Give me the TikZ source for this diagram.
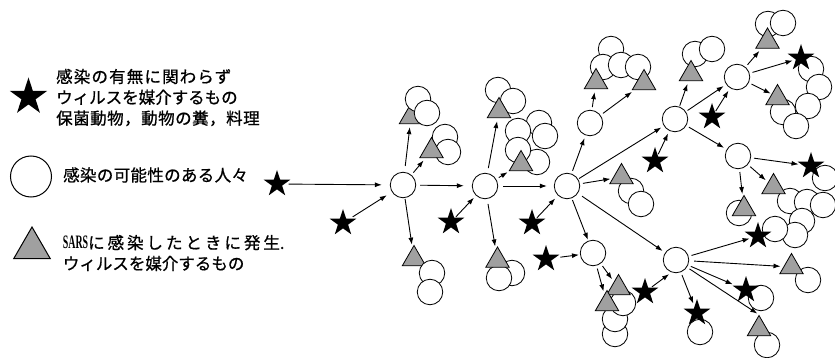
\documentclass[tikz,border=0pt]{standalone}
\usepackage{fontspec}
\setmainfont{Liberation Serif}
\newfontfamily\jpfont[FakeBold=0.8]{Noto Sans CJK JP}
\usetikzlibrary{shapes.geometric,arrows.meta}
\definecolor{trigray}{RGB}{160,160,160}
\newcommand{\sarsword}{{\rmfamily\bfseries\fontsize{19}{20}\selectfont\scalebox{0.52}[1]{SARS}}}
\tikzset{
  person/.style={circle,draw=black,fill=white,line width=0.8pt,minimum size=25.5pt,inner sep=0pt},
  carrier/.style={star,star points=5,star point ratio=2.618,fill=black,draw=none,minimum size=28pt,inner sep=0pt},
  sars/.style={regular polygon,regular polygon sides=3,draw=black,fill=trigray,line width=0.8pt,minimum size=27pt,inner sep=0pt},
  arr/.style={-{Latex[length=7pt,width=5pt]},line width=0.9pt,shorten <=3pt,shorten >=3pt},
  lab/.style={anchor=west,inner sep=0pt,align=left,font=\jpfont\fontsize{16.5}{20.8}\selectfont}
}
\begin{document}
\begin{tikzpicture}[x=1pt,y=-1pt]
\useasboundingbox (0,0) rectangle (835,358);

% ---------- legend ----------
\node[carrier,minimum size=39pt] (lstar) at (28.5,97) {};
\node[person,minimum size=41pt,line width=1pt] (lcirc) at (31,176.5) {};
\node[sars,minimum size=42pt,line width=1pt] (ltri) at (32,248) {};
\node[lab] (ltxt1) at (56,97.5) {{\addfontfeature{LetterSpace=7}感染の有無に関わらず}\\ウィルスを媒介するもの\\{\addfontfeature{LetterSpace=3}保菌動物，動物の糞，料理}};
\node[lab] (ltxt2) at (63,175) {{\addfontfeature{LetterSpace=2}感染の可能性のある人々}};
\node[lab] (ltxt3) at (62.7,253) {\sarsword{\addfontfeature{LetterSpace=18}に感染したときに発生}.\\ウィルスを媒介するもの};

% ---------- background circles ----------
\node[person] (u2a) at (445,137) {};
\node[person] (u2b) at (448,152) {};
\node[person] (u3a) at (498,90) {};
\node[person] (u3b) at (513,101) {};
\node[person] (u4b) at (539,123) {};
\node[person] (u4c) at (545,136) {};
\node[person] (u4a) at (518,131) {};
\node[person] (u4e) at (537,162) {};
\node[person] (u4d) at (518,150) {};
\node[person] (d2a) at (512,273) {};
\node[person] (d2b) at (499,278) {};
\node[person] (r3a) at (631,191) {};
\node[person] (r3b) at (641,204) {};
\node[person] (d4c) at (615,334) {};
\node[person] (d4b) at (615,319) {};
\node[person] (d4a) at (623,303) {};
\node[person] (u6a) at (611,49) {};
\node[person] (u6b) at (603,67) {};
\node[person] (u6c) at (621,65) {};
\node[person] (u6d) at (638,67) {};
\node[person] (u7a) at (695,54) {};
\node[person] (u7b) at (712,49) {};
\node[person] (u8a) at (768,24) {};
\node[person] (u8b) at (783,23) {};
\node[person] (r8a) at (811,69) {};
\node[person] (r8b) at (819,87) {};
\node[person] (r8c) at (808,106) {};
\node[person] (r8d) at (783,112) {};
\node[person] (r8e) at (796,126) {};
\node[person] (s10c) at (825,178) {};
\node[person] (r9a) at (739,213) {};
\node[person] (r9b1) at (790,201) {};
\node[person] (r9b2) at (807,202) {};
\node[person] (r9b3) at (823,205) {};
\node[person] (r9b4) at (802,221) {};
\node[person] (r9b5) at (795,235) {};
\node[person] (r9b6) at (775,229) {};
\node[person] (c5rc) at (808,280) {};
\node[person] (s12c) at (761,298) {};
\node[person] (c5dc) at (767,345) {};
\node[person] (s13c) at (700,332) {};

% ---------- triangles ----------
\node[sars] (tu1) at (411,117) {};
\node[sars] (tu2) at (431.5,151) {};
\node[sars] (td1) at (414,259) {};
\node[sars] (tu3) at (499,111) {};
\node[sars] (tu4) at (521,164) {};
\node[sars] (td2) at (497.5,260.5) {};
\node[sars] (tr3) at (621.5,177) {};
\node[sars] (td4a) at (618.5,288) {};
\node[sars] (td4b) at (607,304) {};
\node[sars] (tu6a) at (596,82) {};
\node[sars] (tu6b) at (644,83) {};
\node[sars] (tu7) at (691,74) {};
\node[sars] (tu8) at (767.5,41.5) {};
\node[sars] (tr8) at (777.5,98) {};
\node[sars] (tr9a) at (744,209) {};
\node[sars] (tr9b) at (773.5,187) {};
\node[sars] (tc5r) at (791.5,267) {};
\node[sars] (tc5d) at (759,329) {};

% ---------- foreground circles ----------
\node[person] (u1a) at (418,99) {};
\node[person] (u1b) at (427,113) {};
\node[person] (d1a) at (432,273) {};
\node[person] (d1b) at (430,292) {};

% ---------- main circles ----------
\node[person] (c1) at (403,185) {};
\node[person] (c2) at (485,186) {};
\node[person] (c3) at (567,186) {};
\node[person] (c4) at (593,253) {};
\node[person] (c5) at (676,260) {};
\node[person] (c6) at (590,123) {};
\node[person] (c7) at (675,119) {};
\node[person] (c8) at (737,77) {};
\node[person] (c9) at (738,156) {};

% ---------- stars ----------
\node[carrier] (sl) at (277,184) {};
\node[carrier] (s2) at (343,223) {};
\node[carrier] (s3) at (451,222) {};
\node[carrier] (s4) at (532,223) {};
\node[carrier] (s5) at (546,259) {};
\node[carrier] (s6) at (645,292) {};
\node[carrier] (s7) at (655,161) {};
\node[carrier] (s8) at (712,117) {};
\node[carrier] (s9) at (801,58) {};
\node[carrier] (s10) at (811,166) {};
\node[carrier] (s11) at (758,236) {};
\node[carrier] (s12) at (746,290) {};
\node[carrier] (s13) at (697,313) {};

% ---------- connectors ----------
\draw[arr,shorten <=4pt,shorten >=8pt] (sl) -- (c1);
\draw[arr,shorten >=6pt] (s2) -- (c1);
\draw[arr,shorten <=6pt] (c1) -- (tu1);
\draw[arr] (c1) -- (tu2);
\draw[arr,shorten <=1pt] (c1) -- (td1);
\draw[arr,shorten <=4pt,shorten >=8pt] (c1) -- (c2);
\draw[arr,shorten <=1pt] (s3) -- (c2);
\draw[arr,shorten <=5pt] (c2) -- (tu3);
\draw[arr,shorten >=2pt] (c2) -- (tu4);
\draw[arr,shorten <=5pt] (c2) -- (td2);
\draw[arr,shorten <=5pt,shorten >=7pt] (c2) -- (c3);
\draw[arr,shorten <=1pt,shorten >=4pt] (s4) -- (c3);
\draw[arr,shorten >=2pt] (c3) -- (tr3);
\draw[arr,shorten <=2pt,shorten >=1pt] (c3) -- (c4);
\draw[arr,shorten <=5pt,shorten >=1pt] (s5) -- (c4);
\draw[arr] (c4) -- (td4b);
\draw[arr] (c4) -- (td4a);
\draw[arr,shorten <=5pt] (c3) -- (c5);
\draw[arr,shorten <=1pt,shorten >=3pt] (s6) -- (c5.250);
\draw[arr] (c3) -- (c6);
\draw[arr] (c6) -- (tu6a);
\draw[arr] (c6) -- (tu6b);
\draw[arr,shorten <=1pt] (c3) -- (c7);
\draw[arr,shorten <=1pt] (s7) -- (c7);
\draw[arr,shorten <=1pt] (c7) -- (tu7);
\draw[arr,shorten <=2pt] (c7) -- (c8);
\draw[arr,shorten <=1pt] (s8) -- (c8);
\draw[arr] (c8) -- (tu8);
\draw[arr] (c8) -- (s9);
\draw[arr,shorten >=1pt] (c8) -- (tr8.146);
\draw[arr] (c7) -- (c9);
\draw[arr] (c9) -- (s10);
\draw[arr] (c9) -- (tr9a);
\draw[arr] (c9) -- (tr9b);
\draw[arr] (c5) -- (s11);
\draw[arr,shorten <=5pt] (c5) -- (tc5r);
\draw[arr] (c5) -- (s12);
\draw[arr,shorten >=2pt] (c5) -- (tc5d.corner 1);
\draw[arr] (c5) -- (s13);
\end{tikzpicture}
\end{document}
